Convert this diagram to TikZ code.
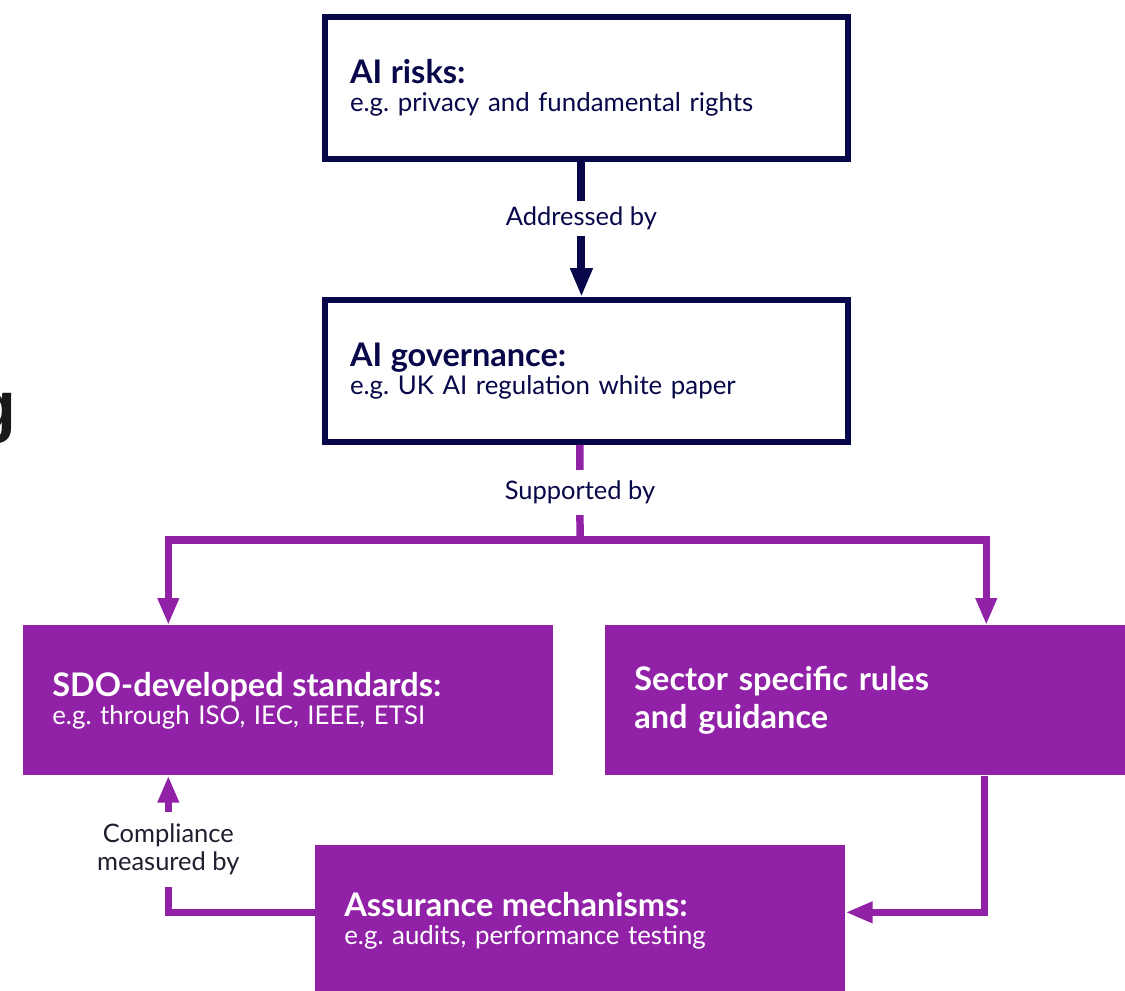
\documentclass[tikz,border=0pt]{standalone}
\usepackage{fontspec}
\setmainfont{Lato}
\newfontfamily\cutfont{Liberation Sans}
\usetikzlibrary{arrows.meta, calc}
\frenchspacing
\definecolor{navy}{HTML}{07074A}
\definecolor{govpurple}{HTML}{9122A7}
\definecolor{labelgrey}{HTML}{1E1E2E}
\def\boxhead{\fontsize{18.5}{16}\selectfont\bfseries}
\tikzset{
  navybox/.style={draw=navy, line width=0.12cm, fill=white, text=navy, anchor=north west,
    minimum width=10.46cm, minimum height=2.84cm, text width=9.46cm, inner xsep=0.5cm,
    align=left, font=\fontsize{14.7}{16}\selectfont},
  purplebox/.style={fill=govpurple, text=white, anchor=north west, minimum height=3cm,
    inner xsep=0.58cm, align=left, font=\fontsize{14.7}{16}\selectfont},
  navyarrow/.style={navy, line width=0.16cm, -{Triangle[length=0.58cm, width=0.42cm]}},
  purpleline/.style={govpurple, line width=0.15cm},
  purplearrow/.style={purpleline, -{Triangle[length=0.54cm, width=0.4cm]}},
  linklabel/.style={fill=white, text=navy, inner xsep=1pt, font=\fontsize{14.5}{16}\selectfont}
}

\begin{document}
\begin{tikzpicture}[x=0.02cm, y=-0.02cm]
  \useasboundingbox (0,0) rectangle (1125,990);

  % cut off word at the edge
  \node[anchor=base east, inner sep=0, text=black!90,
        font=\cutfont\fontsize{39}{39}\selectfont\bfseries] (cut) at (17,429) {g};

  % Governance boxes
  \node[navybox] (risks) at (322,14) {{\boxhead AI risks:}\\e.g. privacy and fundamental rights};
  \node[navybox] (gov) at (322,297) {{\boxhead AI governance:}\\e.g. UK AI regulation white paper};

  % Purple boxes
  \node[purplebox, text width=9.44cm] (sdo) at (23,625)
    {{\boxhead SDO-developed standards:}\\e.g. through ISO, IEC, IEEE, ETSI};
  \node[purplebox, text width=9.24cm, font=\fontsize{18.5}{22}\selectfont\bfseries] (sector) at (605,625)
    {Sector specific rules\\and guidance};
  \node[purplebox, text width=9.44cm] (assure) at (315,845)
    {{\boxhead Assurance mechanisms:}\\e.g. audits, performance testing};

  % Connectors
  \draw[navyarrow] ([xshift=-0.1cm]risks.south) --
    node[pos=0.42, linklabel, inner ysep=3.5pt] {Addressed by} ([xshift=-0.1cm]gov.north);

  \coordinate (split) at (580,540);
  \draw[purpleline] ([xshift=-0.13cm]gov.south) --
    node[linklabel, inner ysep=6pt] {Supported by} (split);
  \draw[purplearrow] (split) -| ([xshift=-2.4cm]sdo.north);
  \draw[purplearrow] (split) -| ([xshift=2.42cm]sector.north);

  \draw[purplearrow] ([xshift=2.38cm]sector.south) |- ([yshift=0.16cm]assure.east);
  \draw[purplearrow] ([yshift=0.16cm]assure.west) -|
    node[pos=0.73, linklabel, text=labelgrey, align=center, inner ysep=7pt]
      {Compliance\\measured by} ([xshift=-2.4cm]sdo.south);
\end{tikzpicture}
\end{document}
